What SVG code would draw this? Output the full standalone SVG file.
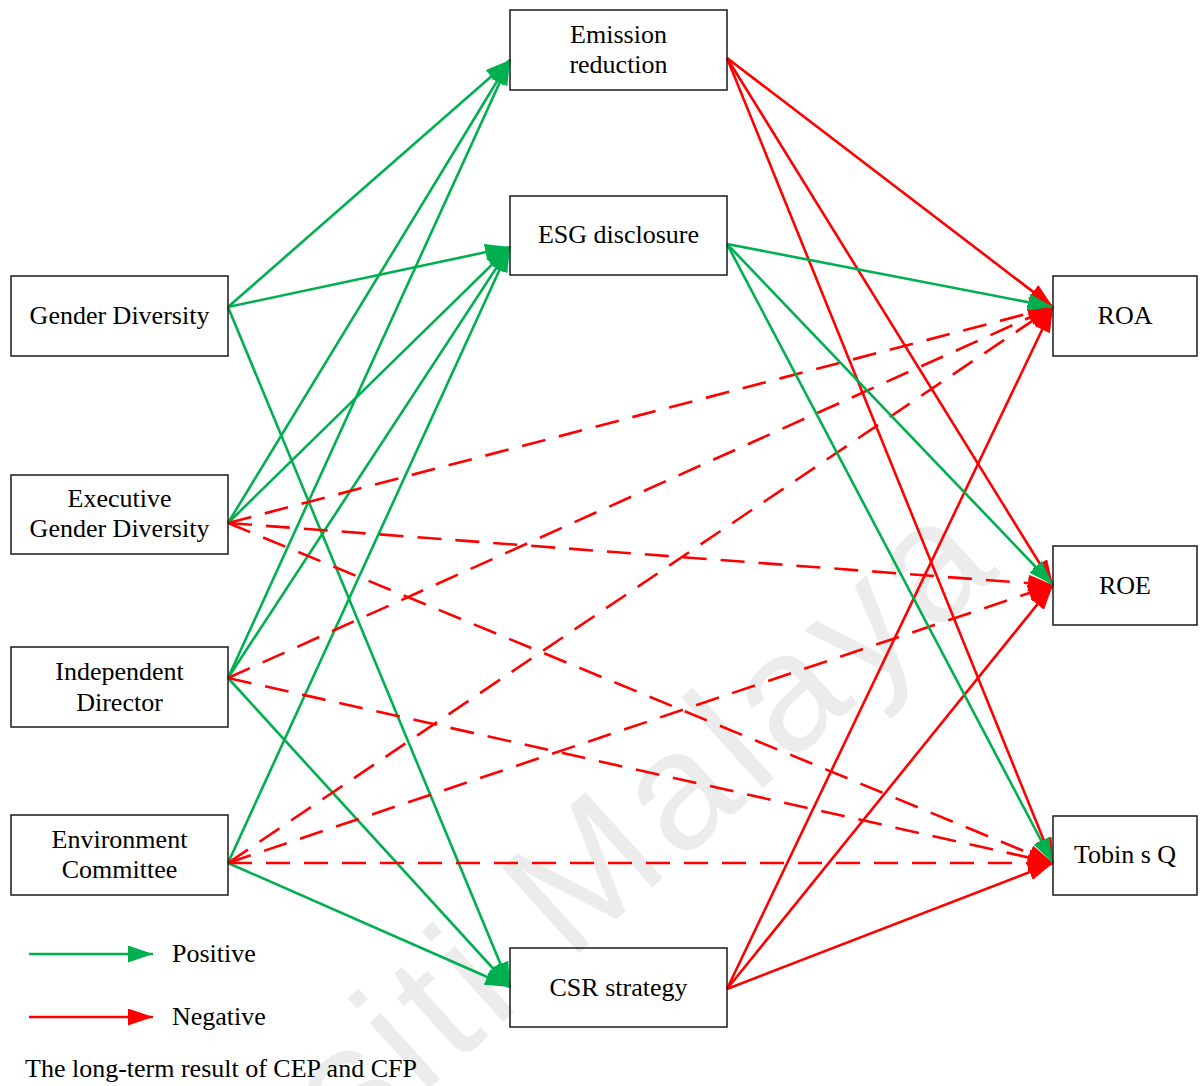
<svg xmlns="http://www.w3.org/2000/svg" width="1204" height="1086" viewBox="0 0 1204 1086">
  <style>
    .box { fill: none; stroke: #1a1a1a; stroke-width: 1.5; }
    .lbl { font-family: "Liberation Serif", "Times New Roman", serif; font-size: 26px; fill: #000; }
    .mid { text-anchor: middle; }
    .pos { stroke: #00b050; stroke-width: 2.6; fill: none; }
    .neg { stroke: #ff0000; stroke-width: 2.6; fill: none; }
    .dash { stroke-dasharray: 24 14; }
    .wm { font-family: "Liberation Sans", Arial, sans-serif; font-size: 168px; letter-spacing: 8px; fill: #ececec; }
  </style>
  <defs>
    <marker id="arrow-pos" markerUnits="userSpaceOnUse" markerWidth="26" markerHeight="18" refX="25" refY="8.5" orient="auto">
      <path d="M0,0 L25,8.5 L0,17 Z" fill="#00b050"/>
    </marker>
    <marker id="arrow-neg" markerUnits="userSpaceOnUse" markerWidth="26" markerHeight="18" refX="25" refY="8.5" orient="auto">
      <path d="M0,0 L25,8.5 L0,17 Z" fill="#ff0000"/>
    </marker>
  </defs>

  <rect width="1204" height="1086" fill="#ffffff"/>

  <!-- background watermark -->
  <text class="wm" transform="translate(594 940) rotate(-42)" x="-859" y="0">Universiti Malaya</text>

  <!-- connectors -->
  <g id="connectors">
    <!-- positive: governance to environmental performance -->
    <line class="pos" x1="228" y1="307" x2="510" y2="60" marker-end="url(#arrow-pos)"/>
    <line class="pos" x1="228" y1="307" x2="510" y2="247" marker-end="url(#arrow-pos)"/>
    <line class="pos" x1="228" y1="307" x2="510" y2="987" marker-end="url(#arrow-pos)"/>
    <line class="pos" x1="228" y1="523" x2="510" y2="60" marker-end="url(#arrow-pos)"/>
    <line class="pos" x1="228" y1="523" x2="510" y2="247" marker-end="url(#arrow-pos)"/>
    <line class="pos" x1="228" y1="678" x2="510" y2="60" marker-end="url(#arrow-pos)"/>
    <line class="pos" x1="228" y1="678" x2="510" y2="247" marker-end="url(#arrow-pos)"/>
    <line class="pos" x1="228" y1="678" x2="510" y2="987" marker-end="url(#arrow-pos)"/>
    <line class="pos" x1="228" y1="863" x2="510" y2="247" marker-end="url(#arrow-pos)"/>
    <line class="pos" x1="228" y1="863" x2="510" y2="987" marker-end="url(#arrow-pos)"/>

    <!-- negative dashed: governance to financial performance -->
    <line class="neg dash" x1="228" y1="523" x2="1053" y2="307" marker-end="url(#arrow-neg)"/>
    <line class="neg dash" x1="228" y1="523" x2="1053" y2="585" marker-end="url(#arrow-neg)"/>
    <line class="neg dash" x1="228" y1="523" x2="1053" y2="863" marker-end="url(#arrow-neg)"/>
    <line class="neg dash" x1="228" y1="678" x2="1053" y2="307" marker-end="url(#arrow-neg)"/>
    <line class="neg dash" x1="228" y1="678" x2="1053" y2="863" marker-end="url(#arrow-neg)"/>
    <line class="neg dash" x1="228" y1="863" x2="1053" y2="307" marker-end="url(#arrow-neg)"/>
    <line class="neg dash" x1="228" y1="863" x2="1053" y2="585" marker-end="url(#arrow-neg)"/>
    <line class="neg dash" x1="228" y1="863" x2="1053" y2="863" marker-end="url(#arrow-neg)"/>

    <!-- negative: emission reduction and CSR strategy to financial performance -->
    <line class="neg" x1="727" y1="58" x2="1053" y2="307" marker-end="url(#arrow-neg)"/>
    <line class="neg" x1="727" y1="58" x2="1053" y2="585" marker-end="url(#arrow-neg)"/>
    <line class="neg" x1="727" y1="58" x2="1053" y2="863" marker-end="url(#arrow-neg)"/>
    <line class="neg" x1="727" y1="989" x2="1053" y2="307" marker-end="url(#arrow-neg)"/>
    <line class="neg" x1="727" y1="989" x2="1053" y2="585" marker-end="url(#arrow-neg)"/>
    <line class="neg" x1="727" y1="989" x2="1053" y2="863" marker-end="url(#arrow-neg)"/>

    <!-- positive: ESG disclosure to financial performance -->
    <line class="pos" x1="727" y1="244" x2="1053" y2="307" marker-end="url(#arrow-pos)"/>
    <line class="pos" x1="727" y1="244" x2="1053" y2="585" marker-end="url(#arrow-pos)"/>
    <line class="pos" x1="727" y1="244" x2="1053" y2="863" marker-end="url(#arrow-pos)"/>
  </g>

  <!-- left column -->
  <g id="gender-diversity">
    <rect class="box" x="11" y="276" width="217" height="80"/>
    <text class="lbl mid" x="119.5" y="324">Gender Diversity</text>
  </g>
  <g id="executive-gender-diversity">
    <rect class="box" x="11" y="475" width="217" height="79"/>
    <text class="lbl mid" x="119.5" y="507">Executive</text>
    <text class="lbl mid" x="119.5" y="537">Gender Diversity</text>
  </g>
  <g id="independent-director">
    <rect class="box" x="11" y="647" width="217" height="80"/>
    <text class="lbl mid" x="119.5" y="680">Independent</text>
    <text class="lbl mid" x="119.5" y="711">Director</text>
  </g>
  <g id="environment-committee">
    <rect class="box" x="11" y="815" width="217" height="80"/>
    <text class="lbl mid" x="119.5" y="848">Environment</text>
    <text class="lbl mid" x="119.5" y="878">Committee</text>
  </g>

  <!-- middle column -->
  <g id="emission-reduction">
    <rect class="box" x="510" y="10" width="217" height="80"/>
    <text class="lbl mid" x="618.5" y="43">Emission</text>
    <text class="lbl mid" x="618.5" y="73">reduction</text>
  </g>
  <g id="esg-disclosure">
    <rect class="box" x="510" y="196" width="217" height="79"/>
    <text class="lbl mid" x="618.5" y="243">ESG disclosure</text>
  </g>
  <g id="csr-strategy">
    <rect class="box" x="510" y="948" width="217" height="79"/>
    <text class="lbl mid" x="618.5" y="996">CSR strategy</text>
  </g>

  <!-- right column -->
  <g id="roa">
    <rect class="box" x="1053" y="276" width="144" height="80"/>
    <text class="lbl mid" x="1125" y="324">ROA</text>
  </g>
  <g id="roe">
    <rect class="box" x="1053" y="546" width="144" height="79"/>
    <text class="lbl mid" x="1125" y="594">ROE</text>
  </g>
  <g id="tobins-q">
    <rect class="box" x="1053" y="816" width="144" height="79"/>
    <text class="lbl mid" x="1125" y="863">Tobin s Q</text>
  </g>

  <!-- legend -->
  <g id="legend">
    <line class="pos" x1="29" y1="954" x2="153" y2="954" marker-end="url(#arrow-pos)"/>
    <text class="lbl" x="172" y="962">Positive</text>
    <line class="neg" x1="29" y1="1017" x2="153" y2="1017" marker-end="url(#arrow-neg)"/>
    <text class="lbl" x="172" y="1025">Negative</text>
    <text class="lbl" x="25" y="1077">The long-term result of CEP and CFP</text>
  </g>
</svg>
